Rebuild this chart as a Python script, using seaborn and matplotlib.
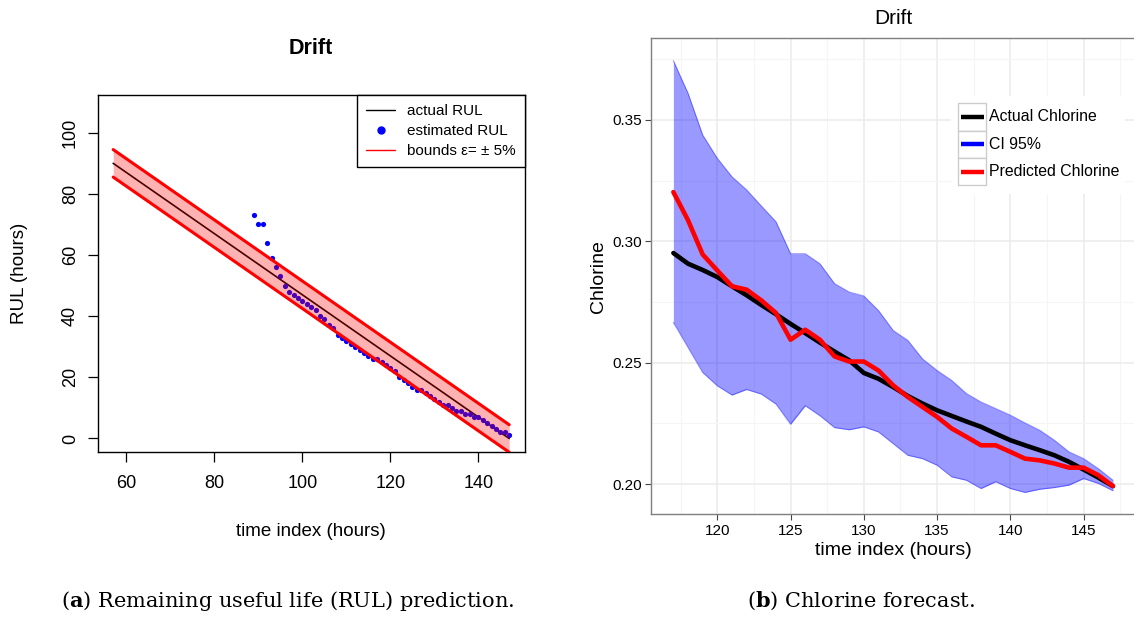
import numpy as np
import pandas as pd
import matplotlib
matplotlib.use("Agg")
import matplotlib.pyplot as plt
from matplotlib.lines import Line2D
from matplotlib.patches import Rectangle
import seaborn as sns

# ---------------- data: panel (a) ----------------
actual_time = [57, 147]
actual_rul = [90, 0]
upper_bound = [94.5, 4.5]
lower_bound = [85.5, -4.5]

est_time = np.arange(89, 148)
est_rul = [73, 70, 70, 64, 59, 56, 53, 50, 48, 47,
           46, 45, 44, 43, 42, 40, 39, 37, 36, 34,
           33, 32, 31, 30, 29, 28, 27, 26, 26, 25,
           24, 23, 22, 20, 19, 18, 17, 16, 16, 15,
           14, 13, 12, 11, 11, 10, 9, 9, 8, 8,
           7, 7, 6, 5, 4, 3, 2, 2, 1]

rul_xticks = [60, 80, 100, 120, 140]
rul_yticks = [0, 20, 40, 60, 80, 100]

# ---------------- data: panel (b) ----------------
chl_time = np.arange(117, 148)
chl_actual = [.2952, .2908, .2882, .2853, .2815, .2778, .2738, .2700, .2660, .2622,
              .2583, .2546, .2510, .2458, .2434, .2400, .2363, .2332, .2304, .2281,
              .2258, .2236, .2208, .2181, .2160, .2140, .2119, .2092, .2060, .2027, .1992]
chl_pred = [.3203, .3087, .2946, .2880, .2815, .2801, .2757, .2705, .2595, .2636,
            .2595, .2526, .2505, .2505, .2468, .2407, .2359, .2318, .2277, .2229,
            .2195, .2160, .2160, .2133, .2105, .2098, .2085, .2068, .2068, .2037, .1992]
ci_upper = [.3744, .3610, .3438, .3342, .3266, .3212, .3146, .3081, .2949, .2949,
            .2908, .2826, .2791, .2775, .2715, .2633, .2592, .2516, .2468, .2427,
            .2373, .2338, .2311, .2284, .2252, .2222, .2181, .2133, .2105, .2064, .2016]
ci_lower = [.2666, .2563, .2460, .2405, .2367, .2390, .2371, .2330, .2247, .2323,
            .2282, .2233, .2224, .2236, .2215, .2167, .2119, .2105, .2078, .2030,
            .2016, .1982, .2010, .1982, .1966, .1979, .1986, .1996, .2023, .2003, .1973]

chl_xticks = [120, 125, 130, 135, 140, 145]
chl_yticks = [0.20, 0.25, 0.30, 0.35]
chl_legend = ["Actual Chlorine", "CI 95%", "Predicted Chlorine"]

# ---------------- style ----------------
sns.set_theme(style="ticks")
plt.rcParams["font.family"] = ["Liberation Sans", "DejaVu Sans"]
plt.rcParams["mathtext.fontset"] = "dejavuserif"
for k in ["text.color", "axes.labelcolor", "xtick.color", "ytick.color",
          "xtick.labelcolor", "ytick.labelcolor"]:
    plt.rcParams[k] = "black"

W, H = 1134, 617
fig = plt.figure(figsize=(W / 100, H / 100), dpi=100)
fig.patch.set_facecolor("white")


def px(x, y):
    return (x / W, 1 - y / H)


# ================= Panel (a) =================
axL = fig.add_axes([97.8 / W, 1 - 451.7 / H, 426.8 / W, 356.6 / H])
axL.set_facecolor("white")
sns.lineplot(x=actual_time, y=actual_rul, color="black", lw=1.2, ax=axL, zorder=2)
sns.scatterplot(x=est_time, y=est_rul, color="blue", s=14, linewidth=0, ax=axL, zorder=3)
axL.fill_between(actual_time, lower_bound, upper_bound, color="red", alpha=0.3,
                 linewidth=0, zorder=4)
sns.lineplot(x=actual_time, y=upper_bound, color="red", lw=2.2, ax=axL, zorder=5)
sns.lineplot(x=actual_time, y=lower_bound, color="red", lw=2.2, ax=axL, zorder=5)

axL.set_xlim(53.5, 150.5)
axL.set_ylim(-4.32, 112.32)
axL.set_xticks(rul_xticks)
axL.set_yticks(rul_yticks)
axL.set_xticklabels([str(v) for v in rul_xticks], fontsize=13)
axL.set_yticklabels([str(v) for v in rul_yticks], fontsize=13, rotation=90, va="center")
axL.tick_params(direction="out", length=7.5, width=0.9, color="black", labelcolor="black")
axL.tick_params(axis="x", pad=9)
axL.tick_params(axis="y", pad=6)
for s in axL.spines.values():
    s.set_visible(True)
    s.set_color("black")
    s.set_linewidth(1.0)
axL.grid(False)

axL.set_xlabel("time index (hours)", fontsize=13.5, color="black")
axL.xaxis.set_label_coords(0.5, (451.7 - 531) / 356.6)
axL.xaxis.label.set_va("center")
axL.set_ylabel("RUL (hours)", fontsize=13.5, color="black")
axL.yaxis.set_label_coords((20 - 97.8) / 426.8, 0.5)
axL.yaxis.label.set_va("center")
axL.text(0.5, (451.7 - 49) / 356.6, "Drift", transform=axL.transAxes, ha="center",
         va="center", fontsize=15.5, fontweight="bold", color="black")

handles = [Line2D([], [], color="black", lw=1.0),
           Line2D([], [], color="blue", marker="o", ls="none", markersize=5),
           Line2D([], [], color="red", lw=1.0)]
legL = axL.legend(handles, ["actual RUL", "estimated RUL", "bounds \u03b5= \u00b1 5%"],
                  loc="upper right", borderaxespad=0, fontsize=11, frameon=True,
                  fancybox=False, edgecolor="black", framealpha=1, handlelength=1.9,
                  handletextpad=0.75, labelspacing=0.38, borderpad=0.6)
legL.get_frame().set_linewidth(1.0)
legL.set_zorder(10)
for t in legL.get_texts():
    t.set_color("black")

# ================= Panel (b) =================
axR = fig.add_axes([651.4 / W, 1 - 514 / H, 483.5 / W, 475.6 / H])
axR.set_facecolor("white")
axR.fill_between(chl_time, ci_lower, ci_upper, color="blue", alpha=0.4, linewidth=0, zorder=2)
axR.plot(chl_time, ci_upper, color="blue", alpha=0.4, lw=0.8, zorder=2)
axR.plot(chl_time, ci_lower, color="blue", alpha=0.4, lw=0.8, zorder=2)
sns.lineplot(x=chl_time, y=chl_actual, color="black", lw=3.3, ax=axR, zorder=3)
sns.lineplot(x=chl_time, y=chl_pred, color="red", lw=3.3, ax=axR, zorder=4)

axR.set_xlim(115.5, 148.5)
axR.set_ylim(0.1877, 0.3836)
axR.set_xticks(chl_xticks)
axR.set_yticks(chl_yticks)
axR.set_xticks([117.5, 122.5, 127.5, 132.5, 137.5, 142.5, 147.5], minor=True)
axR.set_yticks([0.225, 0.275, 0.325, 0.375], minor=True)
axR.set_xticklabels([str(v) for v in chl_xticks], fontsize=11)
axR.set_yticklabels(["%.2f" % v for v in chl_yticks], fontsize=11)
axR.tick_params(which="major", direction="out", length=4.5, width=0.8, color="#444444",
                pad=2.5, labelcolor="black")
axR.tick_params(which="minor", length=0)
axR.grid(True, which="major", color="#EBEBEB", lw=1.1, zorder=0)
axR.grid(True, which="minor", color="#F5F5F5", lw=0.8, zorder=0)
axR.set_axisbelow(True)
for name, s in axR.spines.items():
    s.set_visible(True)
    s.set_color("#7F7F7F")
    s.set_linewidth(1.0)

axR.set_xlabel("time index (hours)", fontsize=14, color="black")
axR.xaxis.set_label_coords(0.5, (514 - 550.4) / 475.6)
axR.xaxis.label.set_va("center")
axR.set_ylabel("Chlorine", fontsize=14, color="black")
axR.yaxis.set_label_coords((598.5 - 651.4) / 483.5, 0.5)
axR.yaxis.label.set_va("center")
fig.text(*px(893, 19), "Drift", ha="center", va="center", fontsize=15, color="black")

# legend (ggplot style key boxes)
tf = fig.transFigure
bg = Rectangle(px(951, 194), 174 / W, 98 / H, transform=tf, facecolor="white",
               edgecolor="none", zorder=6, clip_on=False)
axR.add_artist(bg)
key_colors = ["black", "blue", "red"]
for i, (lab, col) in enumerate(zip(chl_legend, key_colors)):
    top = 103.3 + 27.3 * i
    r = Rectangle(px(958.3, top + 27.3), 27.7 / W, 27.3 / H, transform=tf,
                  facecolor="white", edgecolor="#CCCCCC", lw=1.0, zorder=7, clip_on=False)
    axR.add_artist(r)
    cy = top + 13.65
    ln = Line2D([961 / W, 983.5 / W], [1 - cy / H, 1 - cy / H], transform=tf, color=col,
                lw=3.2, solid_capstyle="butt", zorder=8, clip_on=False)
    axR.add_artist(ln)
    fig.text(*px(989.3, cy), lab, ha="left", va="center", fontsize=11.4, zorder=8,
             color="black")

# ================= captions =================
fig.text(*px(287.5, 601), r"($\mathbf{a}$) Remaining useful life (RUL) prediction.",
         ha="center", va="center", fontsize=15, family="DejaVu Serif", color="black")
fig.text(*px(861, 601), r"($\mathbf{b}$) Chlorine forecast.",
         ha="center", va="center", fontsize=15, family="DejaVu Serif", color="black")

fig.savefig("out.png", dpi=100, facecolor="white")
